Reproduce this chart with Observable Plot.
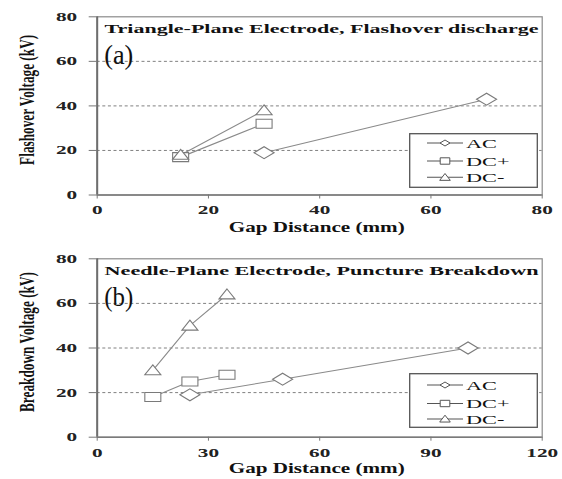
<!DOCTYPE html>
<html>
<head>
<meta charset="utf-8">
<script src="https://cdn.jsdelivr.net/npm/d3@7"></script>
<script src="https://cdn.jsdelivr.net/npm/@observablehq/plot@0.6"></script>
<style>
  body { margin: 0; background: #fff; }
  #wrap { position: relative; width: 562px; height: 479px; }
  .panel { position: absolute; left: 0; }
  .legend { position: absolute; left: 409px; }
</style>
</head>
<body>
<div id="wrap"></div>
<script>
// ---- data ----
const seriesNames = ["AC", "DC+", "DC-"];

// (a) Triangle-Plane Electrode, Flashover discharge
const titleA = "Triangle-Plane Electrode, Flashover discharge";
const tagA = "(a)";
const yLabelA = "Flashover Voltage (kV)";
const gapA_AC = [30, 70],  voltA_AC = [19, 43];
const gapA_DCp = [15, 30], voltA_DCp = [17, 32];
const gapA_DCm = [15, 30], voltA_DCm = [18, 38];
const xTicksA = [0, 20, 40, 60, 80];

// (b) Needle-Plane Electrode, Puncture Breakdown
const titleB = "Needle-Plane Electrode, Puncture Breakdown";
const tagB = "(b)";
const yLabelB = "Breakdown Voltage (kV)";
const gapB_AC = [25, 50, 100], voltB_AC = [19, 26, 40];
const gapB_DCp = [15, 25, 35], voltB_DCp = [18, 25, 28];
const gapB_DCm = [15, 25, 35], voltB_DCm = [30, 50, 64];
const xTicksB = [0, 30, 60, 90, 120];

const yTicks = [0, 20, 40, 60, 80];
const gridLevels = [20, 40, 60];
const xLabel = "Gap Distance (mm)";

const FONT = "'Liberation Serif', 'DejaVu Serif', serif";
const SX = 1.7; // horizontal glyph stretch seen in the reference

// ---- wide symbols (the reference is horizontally stretched) ----
function diamondOf(w, h) { return { draw(ctx) { ctx.moveTo(-w, 0); ctx.lineTo(0, -h); ctx.lineTo(w, 0); ctx.lineTo(0, h); ctx.closePath(); } }; }
function boxOf(w, h) { return { draw(ctx) { ctx.moveTo(-w, -h); ctx.lineTo(w, -h); ctx.lineTo(w, h); ctx.lineTo(-w, h); ctx.closePath(); } }; }
function triOf(w, h) { return { draw(ctx) { ctx.moveTo(0, -h); ctx.lineTo(w, h * 0.8); ctx.lineTo(-w, h * 0.8); ctx.closePath(); } }; }
const plotSymbols = [diamondOf(10, 6), boxOf(8, 4.5), triOf(8, 5.5)];
const legendSymbols = [diamondOf(5, 3), boxOf(4.8, 3.2), triOf(5.3, 3.8)];

function rows(xsList, ysList) {
  const out = [];
  seriesNames.forEach((name, i) => xsList[i].forEach((x, j) => out.push({series: name, gap: x, volt: ysList[i][j]})));
  return out;
}

function stretch(svg, o) {
  d3.select(svg).selectAll("text").each(function () {
    const el = d3.select(this);
    const txt = this.textContent;
    let t = el.attr("transform") || "";
    if (txt === o.title) { el.attr("textLength", o.titleLen).attr("lengthAdjust", "spacingAndGlyphs"); return; }
    if (txt === o.tag) { el.attr("textLength", 29).attr("lengthAdjust", "spacingAndGlyphs"); return; }
    if (txt === xLabel) { el.attr("textLength", 176).attr("lengthAdjust", "spacingAndGlyphs"); return; }
    if (txt === o.yLabel) { el.attr("textLength", o.yLen).attr("lengthAdjust", "spacingAndGlyphs"); }
    if (t.includes("rotate(")) t = t.replace("rotate(", `scale(${SX},1) rotate(`);
    else t = t + ` scale(${SX},1)`;
    el.attr("transform", t);
  });
}

function panel(opts) {
  const data = rows(opts.xs, opts.ys);
  const xmax = opts.xTicks[opts.xTicks.length - 1];
  const svg = Plot.plot({
    width: 562, height: opts.height,
    marginLeft: 96.7, marginRight: 20.3, marginTop: opts.mt, marginBottom: opts.mb,
    style: { fontFamily: FONT, fontSize: "12.5px", fontWeight: "bold", color: "#111", background: "#fff" },
    x: { domain: [0, xmax], ticks: opts.xTicks, label: null },
    y: { domain: [0, 80], ticks: yTicks, label: null },
    symbol: { domain: seriesNames, range: plotSymbols },
    marks: [
      Plot.ruleY(gridLevels, { stroke: "#808080", strokeDasharray: "3,2.6", strokeWidth: 1 }),
      Plot.frame({ stroke: "#8a8a8a", strokeWidth: 1.2 }),
      Plot.ruleX([0], { stroke: "#6e6e6e", strokeWidth: 2 }),
      Plot.ruleY([0], { stroke: "#7a7a7a", strokeWidth: 1.6 }),
      Plot.axisX({ ticks: opts.xTicks, tickSize: 4, tickPadding: 6.5, stroke: "#777", label: null,
                   fontWeight: "bold", fontSize: 12.5, fill: "#222" }),
      Plot.axisY({ ticks: yTicks, tickSize: 8, tickPadding: 12, stroke: "#777", label: null,
                   fontWeight: "bold", fontSize: 12.5, fill: "#222" }),
      Plot.line(data, { x: "gap", y: "volt", z: "series", stroke: "#8a8a8a", strokeWidth: 1.1 }),
      Plot.dot(data, { x: "gap", y: "volt", symbol: "series", r: 6, fill: "white", stroke: "#7a7a7a", strokeWidth: 1.1 }),
      Plot.text([opts.title], { frameAnchor: "top-left", lineAnchor: "middle", dx: 7.3, dy: 11.9, fontSize: 12.5, fontWeight: "bold", fill: "#111" }),
      Plot.text([opts.tag], { frameAnchor: "top-left", lineAnchor: "middle", dx: 7, dy: 39, fontSize: 27, fontWeight: "normal", fill: "#111" }),
      Plot.text([xLabel], { frameAnchor: "bottom", lineAnchor: "middle", dx: -3, dy: opts.xlabDy, fontSize: 15, fontWeight: "bold", fill: "#111" }),
      Plot.text([opts.yLabel], { frameAnchor: "left", textAnchor: "middle", lineAnchor: "middle", dx: -70.4, dy: -6, rotate: -90,
                                 fontSize: 12.5, fontWeight: "bold", fill: "#111" })
    ]
  });
  stretch(svg, opts);
  return svg;
}

function legend(top, rowsY) {
  const W = 129, H = 55;
  const svg = d3.create("svg").attr("class", "legend").attr("width", W).attr("height", H)
    .style("top", top + "px").style("font-family", FONT).style("font-size", "13.5px");
  svg.append("rect").attr("x", 0.7).attr("y", 0.7).attr("width", W - 1.4).attr("height", H - 1.4)
    .attr("fill", "white").attr("stroke", "#555").attr("stroke-width", 1.3);
  seriesNames.forEach((name, i) => {
    const y = rowsY[i];
    svg.append("line").attr("x1", 18).attr("x2", 54).attr("y1", y).attr("y2", y).attr("stroke", "#555").attr("stroke-width", 1.1);
    svg.append("path").attr("transform", `translate(36,${y})`).attr("d", d3.symbol(legendSymbols[i])())
      .attr("fill", "white").attr("stroke", "#555").attr("stroke-width", 1);
    svg.append("text").attr("transform", `translate(57,${y}) scale(1.65,1)`).attr("dy", "0.34em")
      .attr("fill", "#111").text(name);
  });
  return svg.node();
}

const wrap = document.getElementById("wrap");
const pa = document.createElement("div"); pa.className = "panel"; pa.style.top = "0px";
pa.appendChild(panel({ height: 240, mt: 16.3, mb: 45.5, xs: [gapA_AC, gapA_DCp, gapA_DCm], ys: [voltA_AC, voltA_DCp, voltA_DCm],
  xTicks: xTicksA, title: titleA, titleLen: 434, tag: tagA, yLabel: yLabelA, yLen: 130, xlabDy: 32.4 }));
wrap.appendChild(pa);
const pb = document.createElement("div"); pb.className = "panel"; pb.style.top = "240px";
pb.appendChild(panel({ height: 239, mt: 18.3, mb: 42.3, xs: [gapB_AC, gapB_DCp, gapB_DCm], ys: [voltB_AC, voltB_DCp, voltB_DCm],
  xTicks: xTicksB, title: titleB, titleLen: 434, tag: tagB, yLabel: yLabelB, yLen: 140, xlabDy: 31 }));
wrap.appendChild(pb);
wrap.appendChild(legend(133, [10, 28, 44.3]));
wrap.appendChild(legend(373, [12, 30.5, 46]));
</script>
</body>
</html>
